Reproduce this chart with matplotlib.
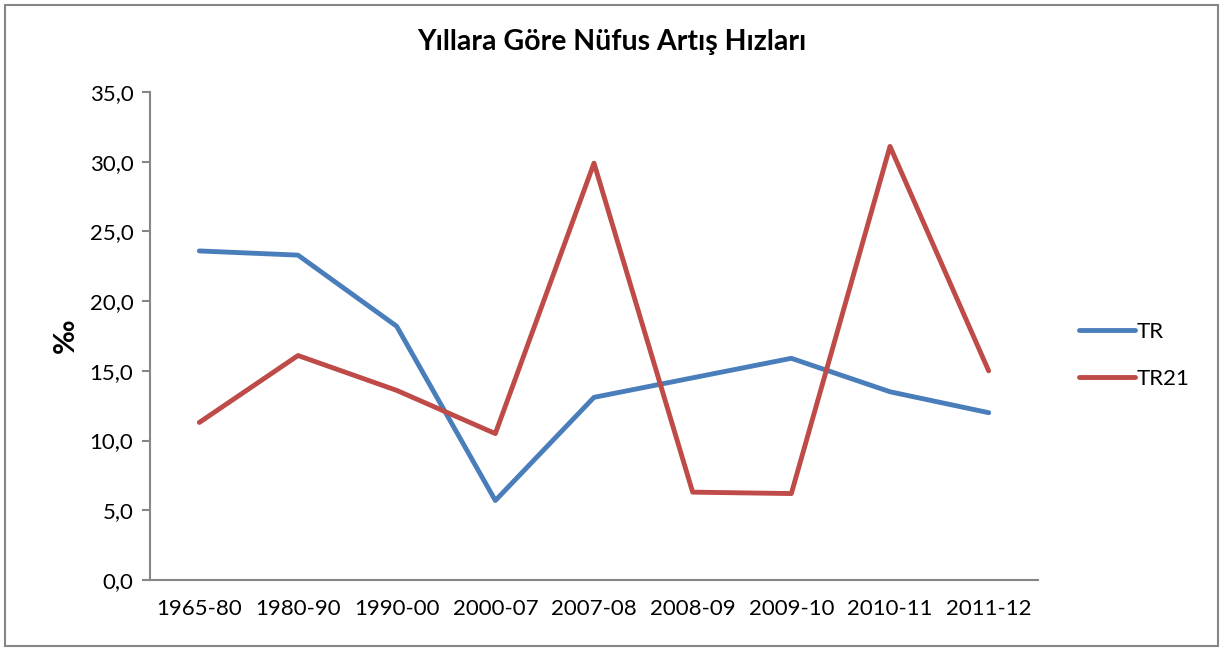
import matplotlib.pyplot as plt
from matplotlib.patches import Rectangle
from matplotlib.ticker import FuncFormatter

plt.rcParams['font.family'] = ['Lato', 'DejaVu Sans']

years = ["1965-80", "1980-90", "1990-00", "2000-07", "2007-08",
         "2008-09", "2009-10", "2010-11", "2011-12"]
tr = [23.6, 23.3, 18.2, 5.7, 13.1, 14.5, 15.9, 13.5, 12.0]
tr21 = [11.3, 16.1, 13.6, 10.5, 29.9, 6.3, 6.2, 31.1, 15.0]

fig = plt.figure(figsize=(12.24, 6.51), dpi=100)
ax = fig.add_axes([150/1224, 71/651, 888/1224, 488/651])

x = list(range(len(years)))
ax.plot(x, tr, color='#4a7ebb', lw=3.5, label='TR', solid_capstyle='round')
ax.plot(x, tr21, color='#be4b48', lw=3.5, label='TR21', solid_capstyle='round')

ax.set_xlim(-0.5, len(years) - 0.5)
ax.set_ylim(0, 35)
ax.set_yticks(range(0, 36, 5))
ax.yaxis.set_major_formatter(FuncFormatter(lambda v, p: f"{v:.1f}".replace('.', ',')))
ax.set_xticks(x)
ax.set_xticklabels(years)
ax.tick_params(axis='x', length=0, pad=14, labelsize=16)
ax.tick_params(axis='y', length=6, width=1.5, color='#868686', pad=6, labelsize=16)

for s in ['top', 'right']:
    ax.spines[s].set_visible(False)
for s in ['left', 'bottom']:
    ax.spines[s].set_color('#868686')
    ax.spines[s].set_linewidth(1.5)

ax.set_ylabel('‰', fontsize=21, fontweight='bold', labelpad=8)
fig.text(612/1224, 1 - 42/651, 'Yıllara Göre Nüfus Artış Hızları',
         ha='center', va='center', fontsize=20.5, fontweight='bold')

ax.legend(loc='center left', bbox_to_anchor=(1.024, 0.46), frameon=False,
          fontsize=16, handlelength=2.5, handletextpad=0.1, labelspacing=1.2)

fig.patches.append(Rectangle((5/1224, 5/651), 1213/1224, 641/651,
                             transform=fig.transFigure, fill=False,
                             edgecolor='#868686', lw=1.5))

fig.savefig('out.png', dpi=100)
